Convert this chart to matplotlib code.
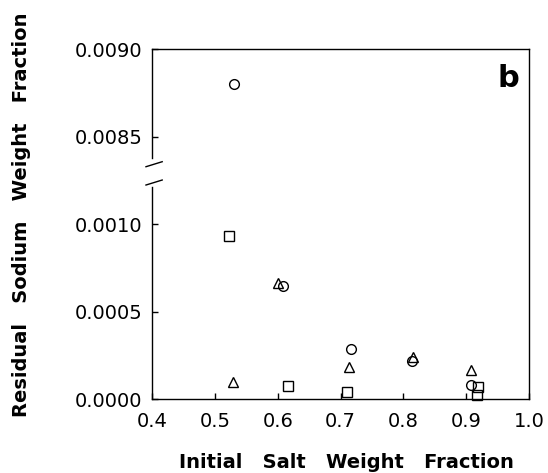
import numpy as np
import matplotlib
matplotlib.use("Agg")
import matplotlib.pyplot as plt

# data
circle_x = [0.530, 0.609, 0.717, 0.813, 0.907]
circle_y = [0.00880, 0.000646, 0.000285, 0.000215, 0.000080]
triangle_x = [0.529, 0.600, 0.714, 0.816, 0.907]
triangle_y = [0.000100, 0.000665, 0.000185, 0.000242, 0.000165]
square_x = [0.522, 0.616, 0.710, 0.919, 0.917]
square_y = [0.000931, 0.000072, 0.000042, 0.000068, 0.000025]

x_ticks = [0.4, 0.5, 0.6, 0.7, 0.8, 0.9, 1.0]
y_ticks = [0.0000, 0.0005, 0.0010, 0.0085, 0.0090]

# broken y axis: everything between 0.0013 and 0.0083 is squeezed out
FOLD = 0.0013
SHIFT = 0.0070


def forward(y):
    y = np.asarray(y, dtype=float)
    return np.where(y <= FOLD, y, np.where(y >= FOLD + SHIFT, y - SHIFT, FOLD))


def inverse(f):
    f = np.asarray(f, dtype=float)
    return np.where(f <= FOLD, f, f + SHIFT)


plt.rcParams['font.family'] = ['DejaVu Sans']

fig = plt.figure(figsize=(5.48, 4.73), dpi=100)
ax = fig.add_axes([0.2774, 0.1564, 0.6880, 0.7400])
ax.set_yscale('function', functions=(forward, inverse))

mk = dict(linestyle='none', markerfacecolor='none', markeredgecolor='black',
          markeredgewidth=1.0, markersize=7, clip_on=False)
ax.plot(circle_x, circle_y, marker='o', **mk)
ax.plot(triangle_x, triangle_y, marker='^', **mk)
ax.plot(square_x, square_y, marker='s', **mk)

ax.set_xlim(0.4, 1.0)
ax.set_ylim(0.0, 0.0090)
ax.set_xticks(x_ticks)
ax.set_xticklabels([f'{v:.1f}' for v in x_ticks])
ax.set_yticks(y_ticks)
ax.set_yticklabels([f'{v:.4f}' for v in y_ticks])
ax.minorticks_off()
ax.tick_params(direction='in', length=4, width=1, labelsize=14, pad=7)
ax.tick_params(axis='x', pad=9)

for s in ['top', 'right', 'bottom']:
    ax.spines[s].set_linewidth(1.0)
ax.spines['left'].set_visible(False)

# left spine in two pieces with break marks
ytr = ax.get_yaxis_transform()
ax.plot([0, 0], [0.0, 0.00121], transform=ytr, color='black', lw=1.0, clip_on=False)
ax.plot([0, 0], [0.00838, 0.0090], transform=ytr, color='black', lw=1.0, clip_on=False)
ax.plot([-0.016, 0.027], [0.6637, 0.6780], transform=ax.transAxes, color='black', lw=1.0, clip_on=False)
ax.plot([-0.016, 0.027], [0.6114, 0.6257], transform=ax.transAxes, color='black', lw=1.0, clip_on=False)

ax.text(0.945, 0.915, 'b', transform=ax.transAxes, fontsize=22, fontweight='bold',
        ha='center', va='center')

fig.text(0.632, 0.023, 'Initial   Salt   Weight   Fraction', fontsize=14,
         fontweight='bold', ha='center', va='center')
fig.text(0.040, 0.545, 'Residual   Sodium   Weight   Fraction', fontsize=14,
         fontweight='bold', ha='center', va='center', rotation=90)

fig.savefig('out.png', dpi=100)
